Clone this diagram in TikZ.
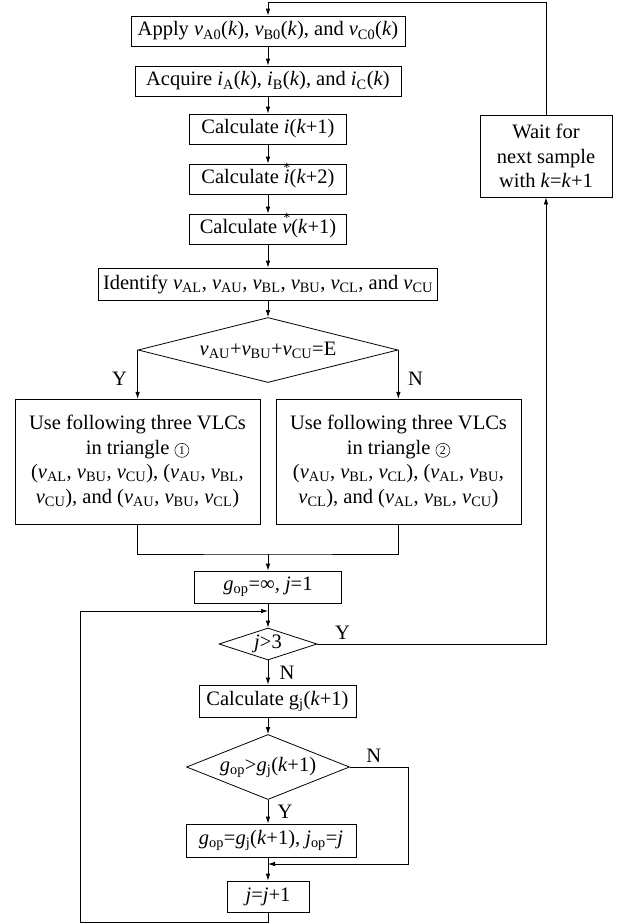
\documentclass[tikz,border=0pt]{standalone}
\usepackage{fontspec}
\setmainfont{Liberation Serif}
\usetikzlibrary{arrows.meta,positioning,shapes.geometric}

\newcommand{\vx}[1]{\textit{v}\textsubscript{#1}}
\newcommand{\starred}[1]{\ooalign{\textit{#1}\cr\hidewidth\raisebox{0.56em}{\fontsize{14}{14}\selectfont *}\hidewidth\cr}}
\newcommand{\tri}[1]{\tikz[baseline=(tc.base)]\node[draw, circle, line width=0.5pt, inner sep=0pt, minimum size=14pt, font=\fontsize{12}{12}\selectfont] (tc) {#1};}

\begin{document}
\begin{tikzpicture}[
  x=1pt, y=-1pt,
  >={Latex[length=7pt,width=4.6pt]}, line width=0.8pt,
  font=\fontsize{20.5}{24.5}\selectfont,
  box/.style={draw, minimum height=30pt, inner sep=2pt, align=center},
  dec/.style={draw, diamond, inner sep=0pt}
]
\useasboundingbox (0,0) rectangle (618,924);

% ---------- PREDICTION ----------
\node[box, minimum width=274pt] (n1) at (268,31) {Apply \vx{A0}(\textit{k}), \vx{B0}(\textit{k}), and \vx{C0}(\textit{k})};
\node[box, minimum width=266pt] (n2) at (268,81) {Acquire \textit{i}\textsubscript{A}(\textit{k}), \textit{i}\textsubscript{B}(\textit{k}), and \textit{i}\textsubscript{C}(\textit{k})};
\node[box, minimum width=157pt] (n3) at (268,129) {Calculate \textit{i}(\textit{k}+1)};
\node[box, minimum width=157pt] (n4) at (268,179) {Calculate \starred{i}(\textit{k}+2)};
\node[box, minimum width=157pt] (n5) at (268,229) {Calculate \starred{v}(\textit{k}+1)};
\node[box, minimum width=339pt, minimum height=32pt] (n6) at (268,284) {Identify \vx{AL}, \vx{AU}, \vx{BL}, \vx{BU}, \vx{CL}, and \vx{CU}};
\node[box, minimum width=132pt, minimum height=82pt] (wait) at (546,156) {Wait for\\next sample\\with \textit{k}=\textit{k}+1};

\draw[->] (n1) -- (n2);
\draw[->] (n2) -- (n3);
\draw[->] (n3) -- (n4);
\draw[->] (n4) -- (n5);
\draw[->] (n5) -- (n6);
\draw[->] (wait.north) -- ++(0,-112) -| (n1.north);

% ---------- TRIANGLE CHOICE ----------
\node[dec, minimum width=260pt, minimum height=65pt,
  label=center:{\vx{AU}+\vx{BU}+\vx{CU}=E}] (d1) at (268,350) {};
\node[box, minimum width=245pt, minimum height=125pt] (u1) at (137.5,461.5)
  {Use following three VLCs\\in triangle \tri{1}\\(\vx{AL}, \vx{BU}, \vx{CU}), (\vx{AU}, \vx{BL},\\\vx{CU}), and (\vx{AU}, \vx{BU}, \vx{CL})};
\node[box, minimum width=245pt, minimum height=125pt] (u2) at (398.5,461.5)
  {Use following three VLCs\\in triangle \tri{2}\\(\vx{AU}, \vx{BL}, \vx{CL}), (\vx{AL}, \vx{BU},\\\vx{CL}), and (\vx{AL}, \vx{BL}, \vx{CU})};
\coordinate (m1) at (268,554);

\draw[->] (n6) -- (d1);
\draw[->] (d1.west) -- (d1.west |- u1.north) node[pos=0.6, left=7pt]{Y};
\draw[->] (d1.east) -- (d1.east |- u2.north) node[pos=0.6, right=6pt]{N};
\draw (u1.south) |- (m1) -| (u2.south);

% ---------- VECTOR SEARCH ----------
\node[box, minimum width=147pt, minimum height=32pt] (g1) at (268,587) {\textit{g}\textsubscript{op}=∞, \textit{j}=1};
\node[dec, minimum width=98pt, minimum height=32pt, label=center:{\textit{j}>3}] (d2) at (268,644) {};
\node[box, minimum width=157pt, minimum height=32pt] (c1) at (277.5,701) {Calculate g\textsubscript{j}(\textit{k}+1)};
\node[dec, minimum width=163pt, minimum height=65pt,
  label=center:{\textit{g}\textsubscript{op}>\textit{g}\textsubscript{j}(\textit{k}+1)}] (d3) at (268,767) {};
\node[box, minimum width=170pt, minimum height=33pt] (s1) at (271,840.5) {\textit{g}\textsubscript{op}=\textit{g}\textsubscript{j}(\textit{k}+1), \textit{j}\textsubscript{op}=\textit{j}};
\node[box, minimum width=82pt, minimum height=31pt] (j1) at (268,896.5) {\textit{j}=\textit{j}+1};
\coordinate (lp) at (268,611);
\coordinate (m2) at (268,864);

\draw[->] (m1) -- (g1.north);
\draw[->] (g1) -- (d2);
\draw[->] (d2.east) -| node[pos=0.055, above=1pt]{Y} (wait.south);
\draw[->] (d2.south) -- (d2.south |- c1.north) node[midway, right=8pt]{N};
\draw[->] (d3.north |- c1.south) -- (d3.north);
\draw[->] (d3.south) -- (d3.south |- s1.north) node[midway, right=6pt]{Y};
\draw[->] (d3.east) -- ++(58,0) node[pos=0.41, above=1pt]{N} |- (m2);
\draw[->] (j1.north |- s1.south) -- (j1.north);
\draw[->] (j1.south) -- ++(0,10) -- ++(-188,0) |- (lp);

\end{tikzpicture}
\end{document}
